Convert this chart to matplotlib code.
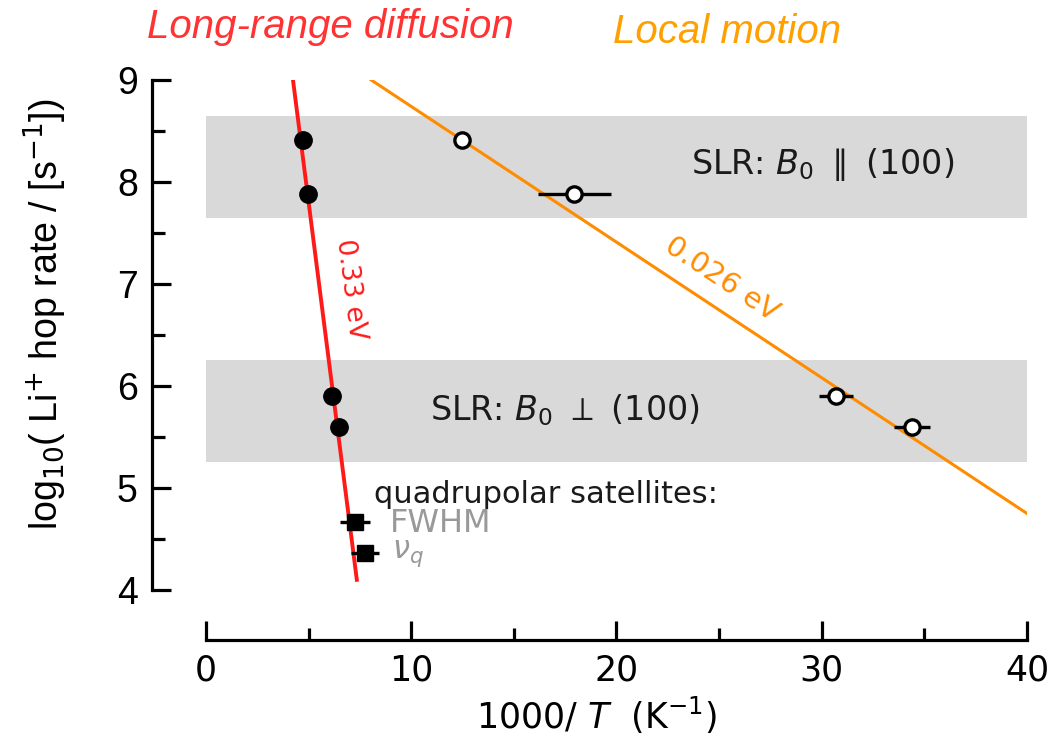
import matplotlib
matplotlib.use("Agg")
import matplotlib.pyplot as plt
import numpy as np
from matplotlib.ticker import MultipleLocator

plt.rcParams['mathtext.fontset'] = 'dejavusans'

# --- data ---
long_x = [4.73, 4.98, 6.15, 6.49]
long_y = [8.41, 7.88, 5.90, 5.60]

local_x = [12.49, 17.95, 30.68, 34.39]
local_y = [8.41, 7.88, 5.90, 5.60]
local_xerr = [0.0, 1.78, 0.83, 0.88]

quad_x = [7.27, 7.76]
quad_y = [4.67, 4.36]
quad_xerr = [0.73, 0.68]

# fitted lines: endpoints
red_line_x = [4.24, 7.35]
red_line_y = [9.0, 4.1]
orange_line_x = [8.05, 40.0]
orange_line_y = [9.0, 4.75]

bands = [(7.65, 8.65), (5.25, 6.25)]

fig = plt.figure(figsize=(10.54, 7.44), dpi=100)
ax = fig.add_axes([0.1954, 0.207, 0.779, 0.6855])

for lo, hi in bands:
    ax.axhspan(lo, hi, xmin=0, xmax=1, color='#d9d9d9', lw=0, zorder=0)

ax.plot(red_line_x, red_line_y, color='#ff1a1a', lw=2.8, zorder=2)
ax.plot(orange_line_x, orange_line_y, color='#ff8c00', lw=2.2, zorder=2)

ax.plot(long_x, long_y, 'o', color='black', ms=12.5, zorder=4)
ax.errorbar(local_x, local_y, xerr=local_xerr, fmt='o', color='black',
            mfc='white', mec='black', mew=2.4, ms=11, elinewidth=2.4,
            capsize=0, zorder=4)
ax.errorbar(quad_x, quad_y, xerr=quad_xerr, fmt='s', color='black',
            ms=12, elinewidth=2.4, capsize=0, zorder=4)

ax.set_xlim(0, 40)
ax.set_ylim(4, 9)

# spines
for s in ['top', 'right']:
    ax.spines[s].set_visible(False)
ax.spines['left'].set_position(('outward', 39))
ax.spines['bottom'].set_position(('outward', 36))
ax.spines['left'].set_linewidth(2.3)
ax.spines['bottom'].set_linewidth(2.3)
ax.spines['left'].set_bounds(4, 9)
ax.spines['bottom'].set_bounds(0, 40)

ax.xaxis.set_major_locator(MultipleLocator(10))
ax.xaxis.set_minor_locator(MultipleLocator(5))
ax.yaxis.set_major_locator(MultipleLocator(1))
ax.yaxis.set_minor_locator(MultipleLocator(0.5))
ax.tick_params(which='major', direction='in', length=14, width=2.3, pad=10)
ax.tick_params(which='minor', direction='in', length=9, width=2.3)
ax.tick_params(axis='y', labelsize=27)
ax.tick_params(axis='x', labelsize=25)
for lab in ax.get_yticklabels():
    lab.set_fontfamily('Liberation Sans')

ax.set_xlabel(r'1000/ $T$  (K$^{-1}$)', fontsize=25)
ax.set_ylabel(r'log$_{10}$( Li$^{+}$ hop rate / [s$^{-1}$])',
              fontsize=27, family='Liberation Sans')
ax.yaxis.set_label_coords(-0.196, 0.54)
ax.xaxis.set_label_coords(0.475, -0.245)
ax.xaxis.label.set_va('center')
ax.yaxis.label.set_va('center')

ax.text(30.05, 8.17, r'SLR: $B_0$ $\parallel$ (100)', fontsize=24,
        ha='center', va='center', color='#1a1a1a')
ax.text(17.5, 5.76, r'SLR: $B_0$ $\perp$ (100)', fontsize=24,
        ha='center', va='center', color='#1a1a1a')
ax.text(8.2, 4.94, 'quadrupolar satellites:', fontsize=22,
        ha='left', va='center', color='#1a1a1a')
ax.text(8.95, 4.65, 'FWHM', fontsize=23, ha='left', va='center', color='#999999')
ax.text(9.05, 4.36, r'$\nu_q$', fontsize=22, ha='left', va='center', color='#999999')

ax.text(7.05, 6.95, '0.33 eV', fontsize=19, color='#ff1a1a', rotation=-82.7,
        ha='center', va='center', rotation_mode='anchor')
ax.text(25.1, 7.05, '0.026 eV', fontsize=21, color='#ff8c00', rotation=-33.5,
        ha='center', va='center', rotation_mode='anchor')

fig.text(330/1054, 1 - 27/744, 'Long-range diffusion', fontsize=29,
         style='italic', family='Liberation Sans', color='#ff3333',
         ha='center', va='center')
fig.text(727/1054, 1 - 32/744, 'Local motion', fontsize=29,
         style='italic', family='Liberation Sans', color='#ffa000',
         ha='center', va='center')

fig.savefig('out.png', dpi=100)
